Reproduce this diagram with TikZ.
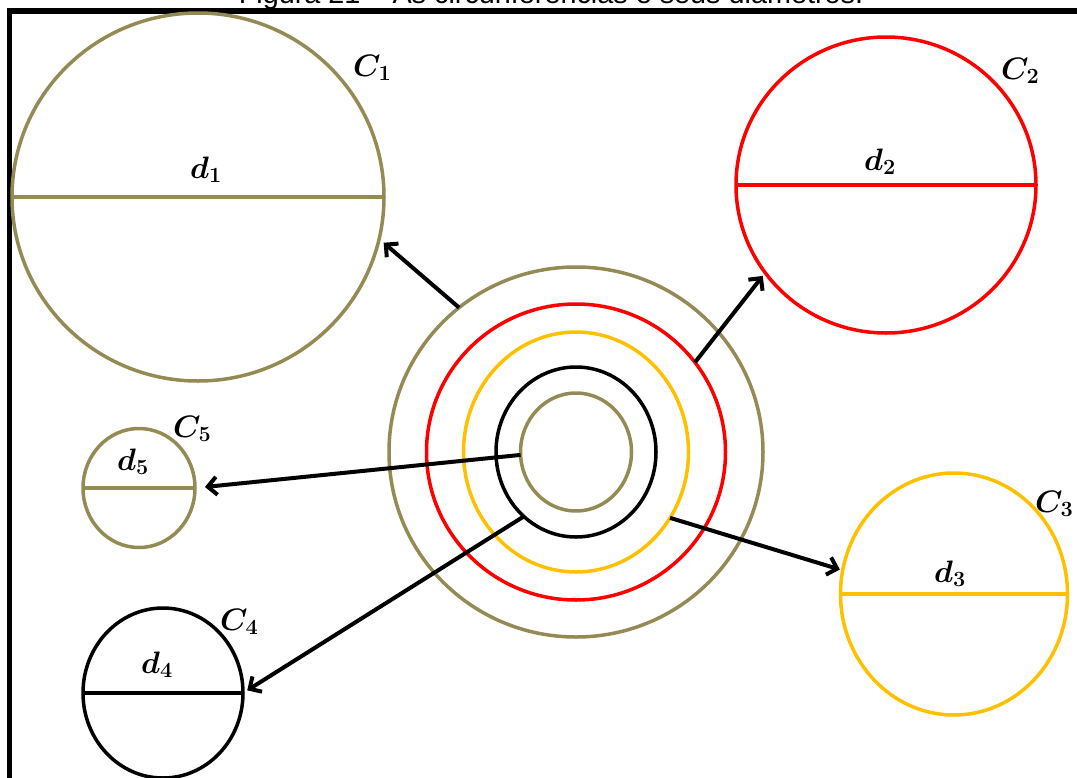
\RequirePackage{fix-cm}
\documentclass[tikz,border=0pt]{standalone}
\usepackage{fontspec}
\usepackage{tikz}
\usetikzlibrary{shapes.geometric,arrows.meta}
\newfontfamily\titlefont{Liberation Sans}
\definecolor{olivetan}{HTML}{948A54}
\definecolor{ringred}{HTML}{FF0000}
\definecolor{ringgold}{HTML}{FFC000}

\begin{document}
\begin{tikzpicture}[x=1pt,y=-1pt,
  circ/.style={ellipse,draw,line width=3.5pt,inner sep=0pt,outer sep=0pt},
  diam/.style={line width=3.5pt},
  arr/.style={-{Straight Barb[length=9pt,width=18pt]},line width=4pt},
  lbl/.style={anchor=base west,inner sep=0pt,font=\fontsize{31}{33}\selectfont\boldmath}
]
\useasboundingbox (0,0) rectangle (1077,777);
\clip (0,0) rectangle (1077,777);
\draw[line width=5.5pt] (9.5,11) rectangle (1100,800);
\node[anchor=base,inner sep=0pt,font=\titlefont\fontsize{28.8}{30}\selectfont] (title) at (551,3) {Figura 21 – As circunferências e seus diâmetros.};
% concentric rings
\foreach \n/\col/\w/\h in {1/olivetan/374/370,2/ringred/299/296,3/ringgold/225/240,4/black/160/170,5/olivetan/111/118}
  \node[circ,draw=\col,minimum width=\w pt,minimum height=\h pt] (r\n) at (576,452) {};
% separate circles
\node[circ,draw=olivetan,minimum width=372pt,minimum height=368pt] (c1) at (198,197) {};
\node[circ,draw=ringred,minimum width=300pt,minimum height=296pt] (c2) at (886,185) {};
\node[circ,draw=ringgold,minimum width=227pt,minimum height=242pt] (c3) at (954,594) {};
\node[circ,draw=black,minimum width=160pt,minimum height=170pt] (c4) at (163,693) {};
\node[circ,draw=olivetan,minimum width=112pt,minimum height=119pt] (c5) at (139,488) {};
\draw[diam,olivetan] (c1.west) -- (c1.east);
\draw[diam,ringred] (c2.west) -- (c2.east);
\draw[diam,ringgold] (c3.west) -- (c3.east);
\draw[diam,black] (c4.west) -- (c4.east);
\draw[diam,olivetan] (c5.west) -- (c5.east);
\node[lbl] (lc1) at (353,76) {$C_1$};
\node[lbl] (ld1) at (190,178) {$d_1$};
\node[lbl] (lc2) at (1001,79) {$C_2$};
\node[lbl] (ld2) at (864,170) {$d_2$};
\node[lbl] (lc3) at (1035,512) {$C_3$};
\node[lbl] (ld3) at (934,582) {$d_3$};
\node[lbl] (lc4) at (220,630) {$C_4$};
\node[lbl] (ld4) at (141,673) {$d_4$};
\node[lbl] (lc5) at (173,437) {$C_5$};
\node[lbl] (ld5) at (117,470) {$d_5$};
\draw[arr,shorten >=6pt] (r1.129.6) -- (c1.-13.8);
\draw[arr,shorten >=4pt] (r2.37.5) -- (c2.216.8);
\draw[arr,shorten >=3pt] (r3.-35) -- (c3.168);
\draw[arr,shorten >=5pt] (r4.231.5) -- (c4.east);
\draw[arr,shorten >=10pt] (r5.183) -- (c5.east);
\end{tikzpicture}
\end{document}
